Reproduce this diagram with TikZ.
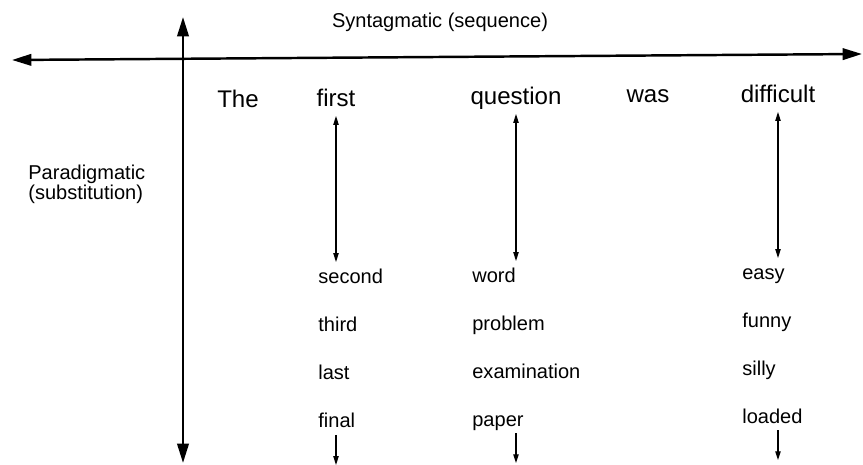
\documentclass[tikz,border=0pt]{standalone}
\usepackage{fontspec}
\setmainfont{Liberation Sans}
\usetikzlibrary{arrows.meta, calc}
\tikzset{
  axis/.style={line width=1.4pt,
    {Triangle[length=11pt, width=6.5pt]}-{Triangle[length=11pt, width=6.5pt]}},
  subarrow/.style={line width=0.7pt,
    {Triangle[length=5pt, width=3pt]}-{Triangle[length=5pt, width=3pt]}},
  tailarrow/.style={line width=0.7pt, -{Triangle[length=5pt, width=3pt]}},
  sentword/.style={font=\fontsize{13.7}{16}\selectfont, inner sep=0pt, anchor=base},
  altword/.style={font=\fontsize{11.4}{13}\selectfont, inner sep=0pt, anchor=base west},
  axislabel/.style={font=\fontsize{11.4}{11.4}\selectfont, inner sep=0pt, align=left}
}
\begin{document}
\begin{tikzpicture}[x=0.02cm, y=-0.02cm]
  \useasboundingbox (0,0) rectangle (863,465);

  % Axes
  \coordinate (synL) at (12,60);
  \coordinate (synR) at (862,54);
  \coordinate (parT) at (183,17);
  \coordinate (parB) at (183,463);
  \draw[axis] (synL) -- (synR);
  \draw[axis] (parB) -- (parT);
  \node[axislabel, anchor=base] (syn) at (440,28) {Syntagmatic (sequence)};
  \node[axislabel, anchor=north west] (para) at (28,165) {Paradigmatic\\(substitution)};

  % Sentence
  \node[sentword] (the) at (238,108) {The};
  \node[sentword] (first) at (336,107) {first};
  \node[sentword] (question) at (516,105) {question};
  \node[sentword] (was) at (648,103) {was};
  \node[sentword] (difficult) at (778,103) {difficult};

  % Substitutes
  \foreach \w [count=\i from 0] in {second,third,last,final}
    \node[altword] (\w) at (318,{284+48*\i}) {\w};
  \foreach \w [count=\i from 0] in {word,problem,examination,paper}
    \node[altword] (\w) at (472,{283+47.7*\i}) {\w};
  \foreach \w [count=\i from 0] in {easy,funny,silly,loaded}
    \node[altword] (\w) at (742,{280+47.7*\i}) {\w};

  % Substitution arrows
  \foreach \top/\alt/\last in {first/second/final, question/word/paper, difficult/easy/loaded} {
    \draw[subarrow] ($(\top.base)+(0,9)$) -- ($(\top.base |- \alt.base)+(0,-22)$);
    \draw[tailarrow] ($(\top.base |- \last.base)+(0,7)$) -- ($(\top.base |- \last.base)+(0,37)$);
  }
\end{tikzpicture}
\end{document}
